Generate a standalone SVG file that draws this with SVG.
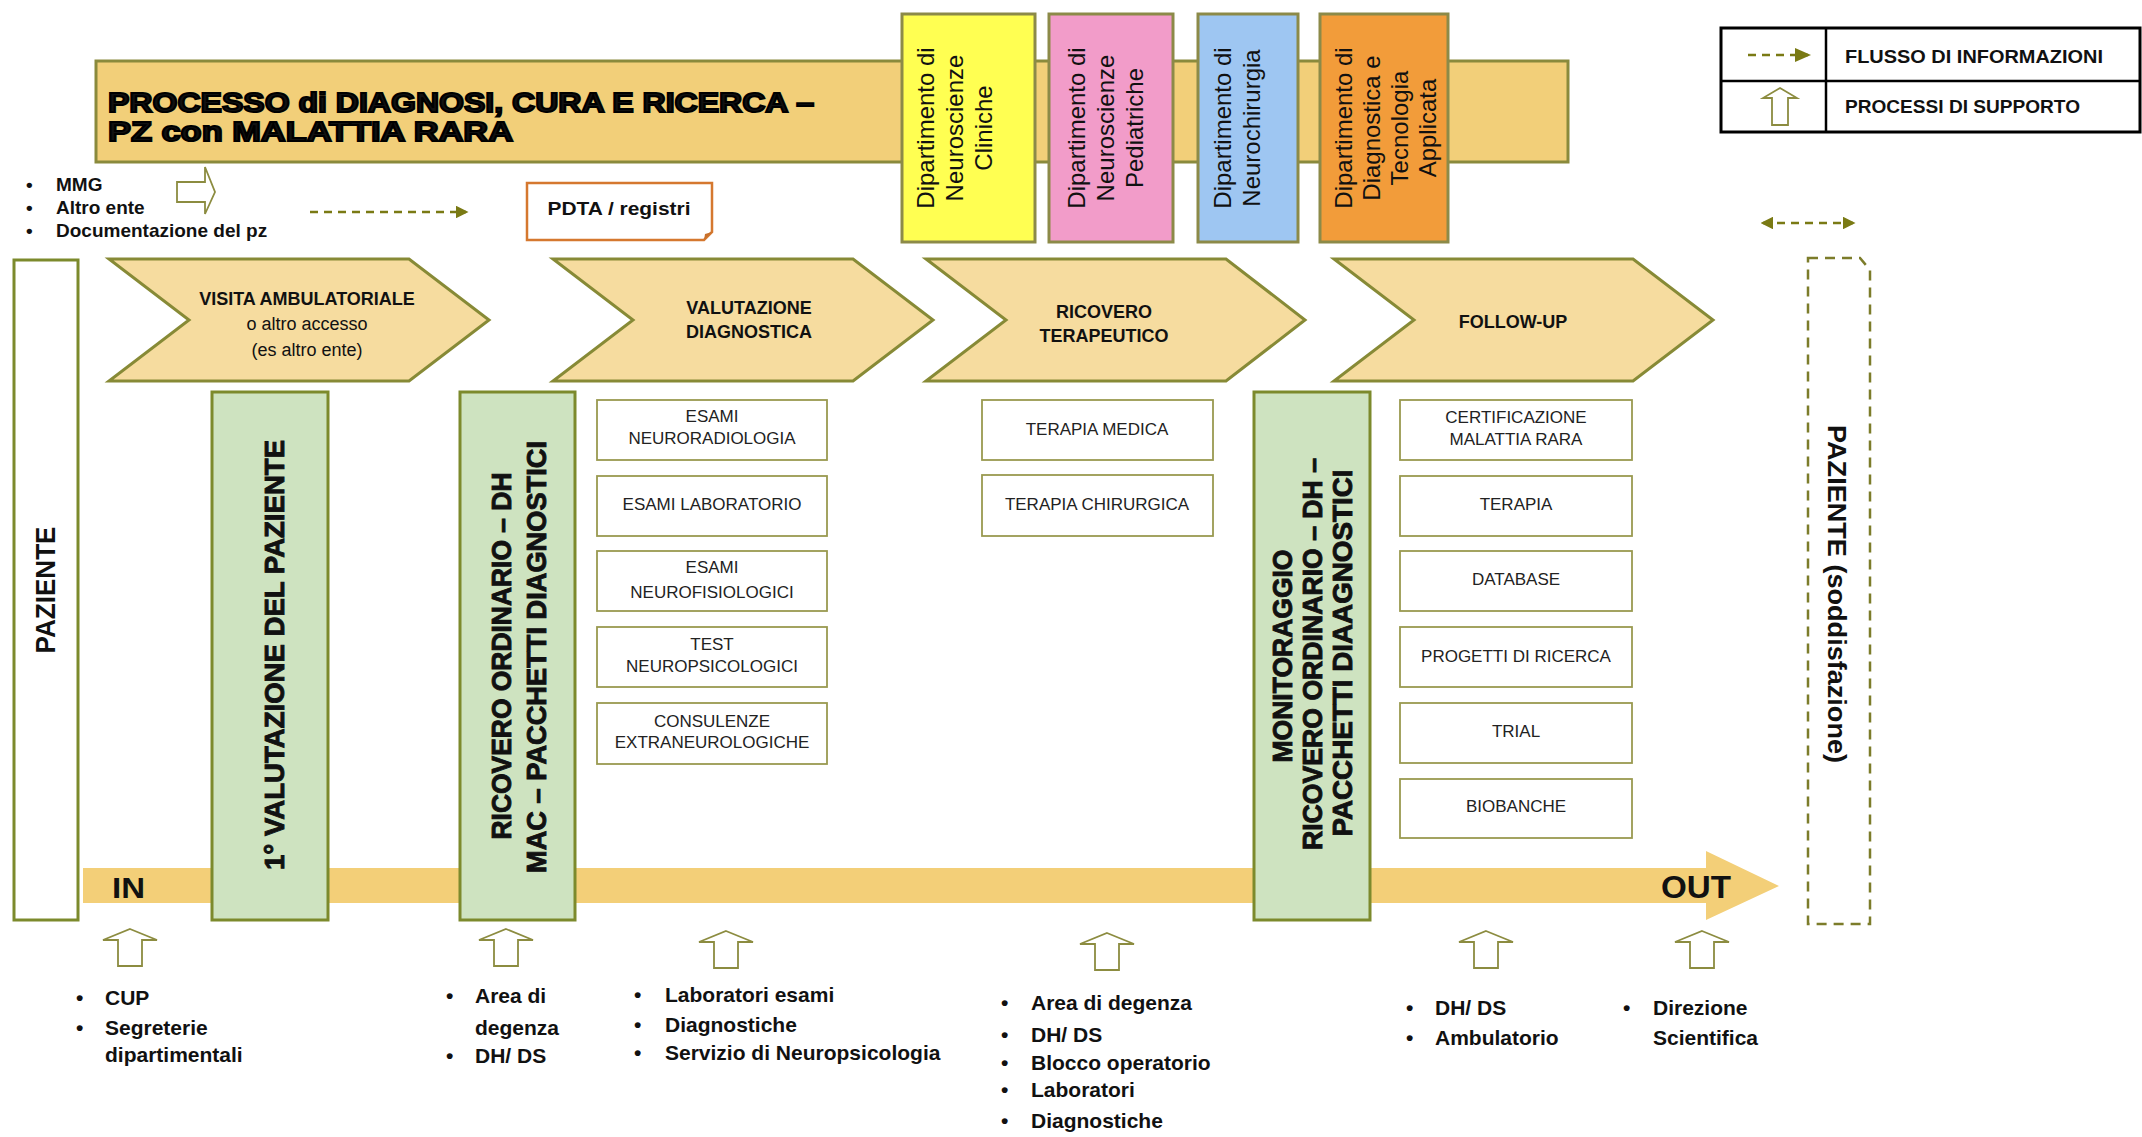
<svg xmlns="http://www.w3.org/2000/svg" width="2142" height="1137" viewBox="0 0 2142 1137">
<defs>
<style>
text { font-family: "Liberation Sans", Arial, sans-serif; fill: #111; }
.b { font-weight: bold; }
.banner { fill: #F2CF79; stroke: #8A8A3C; stroke-width: 3; }
.band { fill: #F3CF78; }
.chev { fill: #F6DC9F; stroke: #878A36; stroke-width: 3; }
.green { fill: #CEE3C0; stroke: #7C8A2C; stroke-width: 3; }
.wbox { fill: #fff; stroke: #9A9A50; stroke-width: 1.8; }
.dept { stroke: #8C8A48; stroke-width: 3; }
.dtext { font-size: 24px; text-anchor: middle; }
.gtext { font-size: 27px; font-weight: bold; text-anchor: middle; stroke: #111; stroke-width: 0.9; }
.ctext { font-size: 18px; text-anchor: middle; }
.btext { font-size: 17px; text-anchor: middle; fill: #222; }
.stext { font-size: 21px; font-weight: bold; }
.ltext { font-size: 19px; font-weight: bold; }
.flow { fill: none; stroke: #7A7A14; stroke-width: 2.5; stroke-dasharray: 8 6; }
.sup { fill: #fff; stroke: #8C8C40; stroke-width: 1.8; }
.title { font-size: 28px; font-weight: bold; stroke: #000; stroke-width: 2; }
</style>
<marker id="ah" viewBox="0 0 10 10" refX="8" refY="5" markerWidth="5" markerHeight="5" orient="auto-start-reverse">
<path d="M0,0 L10,5 L0,10 Z" fill="#7A7A14"/>
</marker>
<path id="up" d="M0,0 L27,11 L12,11 L12,37 L-12,37 L-12,11 L-27,11 Z"/>
</defs>
<rect width="2142" height="1137" fill="#fff"/>

<!-- title banner -->
<g id="title">
<rect class="banner" x="96" y="61" width="1472" height="101"/>
<text class="title" x="108" y="112" textLength="706" lengthAdjust="spacingAndGlyphs">PROCESSO di DIAGNOSI, CURA E RICERCA –</text>
<text class="title" x="108" y="141" textLength="405" lengthAdjust="spacingAndGlyphs">PZ con MALATTIA RARA</text>
</g>

<!-- departments -->
<g id="dept-neuroscienze-cliniche">
<rect class="dept" x="902" y="14" width="133" height="228" fill="#FFFF52"/>
<text class="dtext" transform="translate(926,128) rotate(-90)" dy=".35em">Dipartimento di</text>
<text class="dtext" transform="translate(955,128) rotate(-90)" dy=".35em">Neuroscienze</text>
<text class="dtext" transform="translate(984,128) rotate(-90)" dy=".35em">Cliniche</text>
</g>
<g id="dept-neuroscienze-pediatriche">
<rect class="dept" x="1049" y="14" width="124" height="228" fill="#F29CC9"/>
<text class="dtext" transform="translate(1077,128) rotate(-90)" dy=".35em">Dipartimento di</text>
<text class="dtext" transform="translate(1106,128) rotate(-90)" dy=".35em">Neuroscienze</text>
<text class="dtext" transform="translate(1135,128) rotate(-90)" dy=".35em">Pediatriche</text>
</g>
<g id="dept-neurochirurgia">
<rect class="dept" x="1198" y="14" width="100" height="228" fill="#9EC6F2"/>
<text class="dtext" transform="translate(1223,128) rotate(-90)" dy=".35em">Dipartimento di</text>
<text class="dtext" transform="translate(1252,128) rotate(-90)" dy=".35em">Neurochirurgia</text>
</g>
<g id="dept-diagnostica">
<rect class="dept" x="1320" y="14" width="128" height="228" fill="#F29C3A"/>
<text class="dtext" transform="translate(1344,128) rotate(-90)" dy=".35em">Dipartimento di</text>
<text class="dtext" transform="translate(1372,128) rotate(-90)" dy=".35em">Diagnostica e</text>
<text class="dtext" transform="translate(1400,128) rotate(-90)" dy=".35em">Tecnologia</text>
<text class="dtext" transform="translate(1428,128) rotate(-90)" dy=".35em">Applicata</text>
</g>

<!-- legend -->
<g id="legend">
<rect x="1721" y="28" width="419" height="104" fill="#fff" stroke="#000" stroke-width="3"/>
<line x1="1721" y1="81" x2="2140" y2="81" stroke="#000" stroke-width="2.5"/>
<line x1="1826" y1="28" x2="1826" y2="132" stroke="#000" stroke-width="2.5"/>
<line class="flow" x1="1748" y1="55" x2="1808" y2="55"/>
<path d="M1795,48 L1811,55 L1795,62 Z" fill="#7A7A14"/>
<path class="sup" d="M1780,88 L1797,98 L1788,98 L1788,125 L1772,125 L1772,98 L1763,98 Z" stroke="#7A7A14" stroke-width="2"/>
<text class="ltext" x="1845" y="63" textLength="258" lengthAdjust="spacingAndGlyphs">FLUSSO DI INFORMAZIONI</text>
<text class="ltext" x="1845" y="113" textLength="235" lengthAdjust="spacingAndGlyphs">PROCESSI DI SUPPORTO</text>
</g>

<!-- inputs -->
<g id="input-sources">
<text class="ltext" x="26" y="191">•</text>
<text class="ltext" x="26" y="214">•</text>
<text class="ltext" x="26" y="237">•</text>
<text class="ltext" x="56" y="191">MMG</text>
<text class="ltext" x="56" y="214">Altro ente</text>
<text class="ltext" x="56" y="237">Documentazione del pz</text>
<path class="sup" d="M177,182 L205,182 L205,167 L215,192 L205,214 L205,202 L177,202 Z"/>
</g>

<g id="pdta">
<path d="M527,183 H712 V232 L704,240 H527 Z" fill="#fff" stroke="#D5782F" stroke-width="2.5"/>
<path d="M712,232 L705,234 L704,240 Z" fill="#C8702C"/>
<text class="b" x="619" y="215" font-size="18" text-anchor="middle" textLength="143" lengthAdjust="spacingAndGlyphs">PDTA / registri</text>
</g>

<!-- main IN/OUT arrow -->
<g id="in-out-arrow">
<path class="band" d="M83,868 H1706 V851 L1779,886 L1706,920 V903 H83 Z"/>
<text class="b" x="112" y="898" font-size="30" textLength="33" lengthAdjust="spacingAndGlyphs">IN</text>
<text class="b" x="1661" y="898" font-size="31" textLength="70" lengthAdjust="spacingAndGlyphs">OUT</text>
</g>

<!-- patient -->
<g id="paziente">
<rect x="14" y="260" width="64" height="660" fill="#fff" stroke="#7C8A2C" stroke-width="3"/>
<text class="b" font-size="28" text-anchor="middle" transform="translate(45,590) rotate(-90)" dy=".35em" textLength="127" lengthAdjust="spacingAndGlyphs">PAZIENTE</text>
</g>

<g id="paziente-soddisfazione">
<path d="M1808,258 H1860 L1870,270 V924 H1808 Z" fill="none" stroke="#7C7C2A" stroke-width="2.5" stroke-dasharray="10 7"/>
<text class="b" font-size="26" text-anchor="middle" transform="translate(1837,594) rotate(90)" dy=".35em" textLength="338" lengthAdjust="spacingAndGlyphs">PAZIENTE  (soddisfazione)</text>
</g>

<!-- chevrons -->
<g id="visita-ambulatoriale">
<path class="chev" d="M109,259 H409 L489,320 L409,381 H109 L189,320 Z"/>
<text class="ctext b" x="307" y="305">VISITA AMBULATORIALE</text>
<text class="ctext" x="307" y="330" font-size="19">o altro accesso</text>
<text class="ctext" x="307" y="356" font-size="19">(es altro ente)</text>
</g>
<g id="valutazione-diagnostica">
<path class="chev" d="M553,259 H853 L933,320 L853,381 H553 L633,320 Z"/>
<text class="ctext b" x="749" y="314">VALUTAZIONE</text>
<text class="ctext b" x="749" y="338">DIAGNOSTICA</text>
</g>
<g id="ricovero-terapeutico">
<path class="chev" d="M926,259 H1226 L1305,320 L1226,381 H926 L1006,320 Z"/>
<text class="ctext b" x="1104" y="318">RICOVERO</text>
<text class="ctext b" x="1104" y="342">TERAPEUTICO</text>
</g>
<g id="follow-up">
<path class="chev" d="M1334,259 H1633 L1713,320 L1633,381 H1334 L1414,320 Z"/>
<text class="ctext b" x="1513" y="328">FOLLOW-UP</text>
</g>

<!-- green vertical boxes -->
<g id="prima-valutazione">
<rect class="green" x="212" y="392" width="116" height="528"/>
<text class="gtext" transform="translate(275,655) rotate(-90)" dy=".35em" textLength="430" lengthAdjust="spacingAndGlyphs">1° VALUTAZIONE DEL PAZIENTE</text>
</g>
<g id="ricovero-diagnostico">
<rect class="green" x="460" y="392" width="115" height="528"/>
<text class="gtext" transform="translate(502,656) rotate(-90)" dy=".35em" textLength="367" lengthAdjust="spacingAndGlyphs">RICOVERO ORDINARIO – DH</text>
<text class="gtext" transform="translate(537,657) rotate(-90)" dy=".35em" textLength="432" lengthAdjust="spacingAndGlyphs">MAC – PACCHETTI DIAGNOSTICI</text>
</g>
<g id="monitoraggio">
<rect class="green" x="1254" y="392" width="116" height="528"/>
<text class="gtext" transform="translate(1283,656) rotate(-90)" dy=".35em" textLength="213" lengthAdjust="spacingAndGlyphs">MONITORAGGIO</text>
<text class="gtext" transform="translate(1313,654) rotate(-90)" dy=".35em" textLength="392" lengthAdjust="spacingAndGlyphs">RICOVERO ORDINARIO – DH –</text>
<text class="gtext" transform="translate(1343,653) rotate(-90)" dy=".35em" textLength="367" lengthAdjust="spacingAndGlyphs">PACCHETTI DIAAGNOSTICI</text>
</g>

<!-- valutazione column -->
<g id="esami-neuroradiologia">
<rect class="wbox" x="597" y="400" width="230" height="60"/>
<text class="btext" x="712" y="422">ESAMI</text>
<text class="btext" x="712" y="444">NEURORADIOLOGIA</text>
</g>
<g id="esami-laboratorio">
<rect class="wbox" x="597" y="476" width="230" height="60"/>
<text class="btext" x="712" y="510">ESAMI LABORATORIO</text>
</g>
<g id="esami-neurofisiologici">
<rect class="wbox" x="597" y="551" width="230" height="60"/>
<text class="btext" x="712" y="573">ESAMI</text>
<text class="btext" x="712" y="598">NEUROFISIOLOGICI</text>
</g>
<g id="test-neuropsicologici">
<rect class="wbox" x="597" y="627" width="230" height="60"/>
<text class="btext" x="712" y="650">TEST</text>
<text class="btext" x="712" y="672">NEUROPSICOLOGICI</text>
</g>
<g id="consulenze">
<rect class="wbox" x="597" y="703" width="230" height="61"/>
<text class="btext" x="712" y="727">CONSULENZE</text>
<text class="btext" x="712" y="748">EXTRANEUROLOGICHE</text>
</g>

<!-- ricovero column -->
<g id="terapia-medica">
<rect class="wbox" x="982" y="400" width="231" height="60"/>
<text class="btext" x="1097" y="435">TERAPIA MEDICA</text>
</g>
<g id="terapia-chirurgica">
<rect class="wbox" x="982" y="475" width="231" height="61"/>
<text class="btext" x="1097" y="510">TERAPIA CHIRURGICA</text>
</g>

<!-- follow-up column -->
<g id="certificazione">
<rect class="wbox" x="1400" y="400" width="232" height="60"/>
<text class="btext" x="1516" y="423">CERTIFICAZIONE</text>
<text class="btext" x="1516" y="445">MALATTIA RARA</text>
</g>
<g id="terapia">
<rect class="wbox" x="1400" y="476" width="232" height="60"/>
<text class="btext" x="1516" y="510">TERAPIA</text>
</g>
<g id="database">
<rect class="wbox" x="1400" y="551" width="232" height="60"/>
<text class="btext" x="1516" y="585">DATABASE</text>
</g>
<g id="progetti-ricerca">
<rect class="wbox" x="1400" y="627" width="232" height="60"/>
<text class="btext" x="1516" y="662">PROGETTI DI RICERCA</text>
</g>
<g id="trial">
<rect class="wbox" x="1400" y="703" width="232" height="60"/>
<text class="btext" x="1516" y="737">TRIAL</text>
</g>
<g id="biobanche">
<rect class="wbox" x="1400" y="779" width="232" height="59"/>
<text class="btext" x="1516" y="812">BIOBANCHE</text>
</g>

<!-- connectors -->
<g id="connectors">
<line class="flow" x1="310" y1="212" x2="466" y2="212" marker-end="url(#ah)"/>
<line class="flow" x1="1763" y1="223" x2="1853" y2="223" marker-start="url(#ah)" marker-end="url(#ah)"/>
</g>

<!-- support processes -->
<g id="supporto-1">
<use href="#up" class="sup" x="130" y="929"/>
<text class="stext" x="76" y="1005">•</text>
<text class="stext" x="105" y="1005">CUP</text>
<text class="stext" x="76" y="1035">•</text>
<text class="stext" x="105" y="1035">Segreterie</text>
<text class="stext" x="105" y="1062">dipartimentali</text>
</g>
<g id="supporto-2">
<use href="#up" class="sup" x="506" y="929"/>
<text class="stext" x="446" y="1003">•</text>
<text class="stext" x="475" y="1003">Area di</text>
<text class="stext" x="475" y="1035">degenza</text>
<text class="stext" x="446" y="1063">•</text>
<text class="stext" x="475" y="1063">DH/ DS</text>
</g>
<g id="supporto-3">
<use href="#up" class="sup" x="726" y="931"/>
<text class="stext" x="634" y="1002">•</text>
<text class="stext" x="665" y="1002">Laboratori esami</text>
<text class="stext" x="634" y="1032">•</text>
<text class="stext" x="665" y="1032">Diagnostiche</text>
<text class="stext" x="634" y="1060">•</text>
<text class="stext" x="665" y="1060">Servizio di Neuropsicologia</text>
</g>
<g id="supporto-4">
<use href="#up" class="sup" x="1107" y="933"/>
<text class="stext" x="1001" y="1010">•</text>
<text class="stext" x="1031" y="1010">Area di degenza</text>
<text class="stext" x="1001" y="1042">•</text>
<text class="stext" x="1031" y="1042">DH/ DS</text>
<text class="stext" x="1001" y="1070">•</text>
<text class="stext" x="1031" y="1070">Blocco operatorio</text>
<text class="stext" x="1001" y="1097">•</text>
<text class="stext" x="1031" y="1097">Laboratori</text>
<text class="stext" x="1001" y="1128">•</text>
<text class="stext" x="1031" y="1128">Diagnostiche</text>
</g>
<g id="supporto-5">
<use href="#up" class="sup" x="1486" y="931"/>
<text class="stext" x="1406" y="1015">•</text>
<text class="stext" x="1435" y="1015">DH/ DS</text>
<text class="stext" x="1406" y="1045">•</text>
<text class="stext" x="1435" y="1045">Ambulatorio</text>
</g>
<g id="supporto-6">
<use href="#up" class="sup" x="1702" y="931"/>
<text class="stext" x="1623" y="1015">•</text>
<text class="stext" x="1653" y="1015">Direzione</text>
<text class="stext" x="1653" y="1045">Scientifica</text>
</g>
</svg>
